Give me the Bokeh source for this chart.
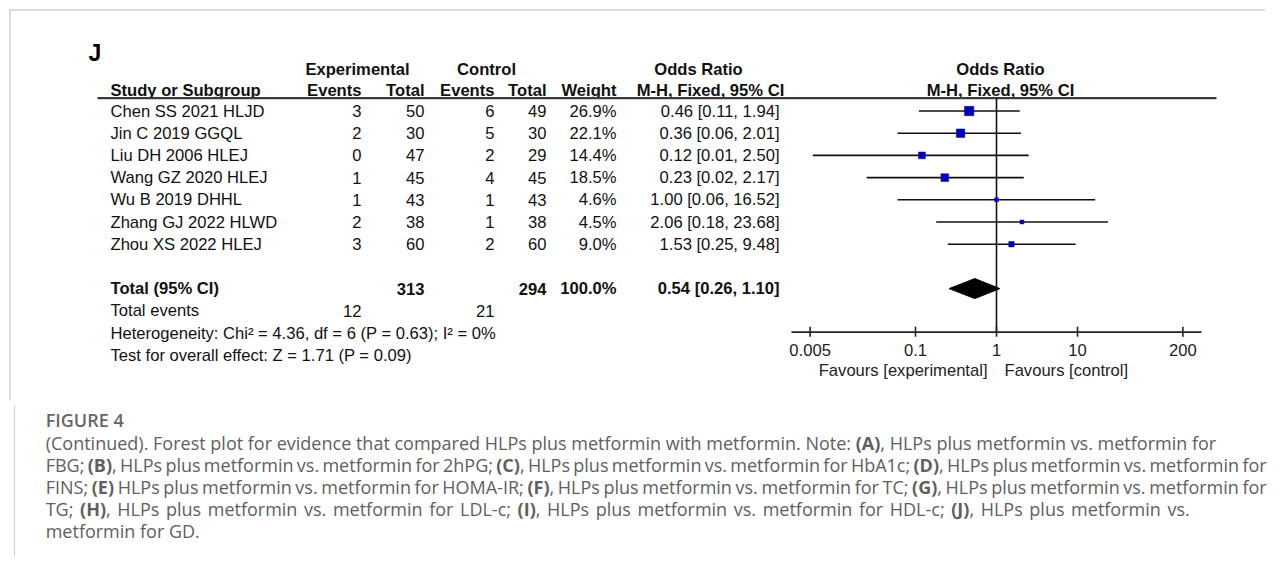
import numpy as np
from bokeh.plotting import figure
from bokeh.models import Range1d, LogScale, ColumnDataSource, Div
from bokeh.layouts import column
from bokeh.core.properties import value
from bokeh.embed import file_html
from bokeh.resources import INLINE

# ---------------- data ----------------
panel_label = "J"
studies = ["Chen SS 2021 HLJD", "Jin C 2019 GGQL", "Liu DH 2006 HLEJ", "Wang GZ 2020 HLEJ",
           "Wu B 2019 DHHL", "Zhang GJ 2022 HLWD", "Zhou XS 2022 HLEJ"]
exp_events = [3, 2, 0, 1, 1, 2, 3]
exp_total = [50, 30, 47, 45, 43, 38, 60]
ctl_events = [6, 5, 2, 4, 1, 1, 2]
ctl_total = [49, 30, 29, 45, 43, 38, 60]
weights = [26.9, 22.1, 14.4, 18.5, 4.6, 4.5, 9.0]
odds = [0.46, 0.36, 0.12, 0.23, 1.00, 2.06, 1.53]
ci_low = [0.11, 0.06, 0.0054, 0.025, 0.06, 0.18, 0.25]
ci_high = [1.94, 2.01, 2.50, 2.17, 16.52, 23.68, 9.48]
ci_text = ["0.46 [0.11, 1.94]", "0.36 [0.06, 2.01]", "0.12 [0.01, 2.50]", "0.23 [0.02, 2.17]",
           "1.00 [0.06, 16.52]", "2.06 [0.18, 23.68]", "1.53 [0.25, 9.48]"]
total_exp = 313
total_ctl = 294
total_weight = "100.0%"
pooled_or, pooled_low, pooled_high = 0.54, 0.26, 1.10
pooled_text = "0.54 [0.26, 1.10]"
events_exp = 12
events_ctl = 21
heterogeneity = "Heterogeneity: Chi² = 4.36, df = 6 (P = 0.63); I² = 0%"
overall = "Test for overall effect: Z = 1.71 (P = 0.09)"
axis_ticks = [0.005, 0.1, 1, 10, 200]
axis_labels = ["0.005", "0.1", "1", "10", "200"]
favours_left = "Favours [experimental]"
favours_right = "Favours [control]"

caption_title = "FIGURE 4"
caption_lines = [
    "(Continued). Forest plot for evidence that compared HLPs plus metformin with metformin. Note: <b>(A)</b>, HLPs plus metformin vs. metformin for",
    "FBG; <b>(B)</b>, HLPs plus metformin vs. metformin for 2hPG; <b>(C)</b>, HLPs plus metformin vs. metformin for HbA1c; <b>(D)</b>, HLPs plus metformin vs. metformin for",
    "FINS; <b>(E)</b> HLPs plus metformin vs. metformin for HOMA-IR; <b>(F)</b>, HLPs plus metformin vs. metformin for TC; <b>(G)</b>, HLPs plus metformin vs. metformin for",
    "TG; <b>(H)</b>, HLPs plus metformin vs. metformin for LDL-c; <b>(I)</b>, HLPs plus metformin vs. metformin for HDL-c; <b>(J)</b>, HLPs plus metformin vs.",
    "metformin for GD.",
]

# ---------------- layout ----------------
W, H_FIG, H_CAP = 1265, 400, 151
PX_PER_DEC = 81.0
X_ONE = 996.0
FS = 16.6

J_X, J_Y = 88, 52
HDR1_Y, HDR2_Y, RULE_Y = 69, 90, 97.7
ROW0, ROW_H = 110.5, 22.2
AXIS_Y, TICK_Y, FAV_Y = 331.7, 349.5, 370
COL_NAME, COL_EEV, COL_ETOT, COL_CEV, COL_CTOT, COL_WT, COL_CI = 110, 361, 424, 494, 546, 616, 779
PLOT_HDR_X = 1000
# (target width px or None, word spacing px) for each caption line
CAP_LINE_FMT = [(None, 0), (1221, -2), (1221, -2), (1144, 0), (None, 0)]

TXT = "#111111"
BLUE = "#0000b4"
FONT = value("Liberation Sans")

p = figure(width=W, height=H_FIG, x_range=Range1d(0, W), y_range=Range1d(H_FIG, 0),
           output_backend="svg", toolbar_location=None, x_axis_type=None, y_axis_type=None,
           min_border=0)
p.outline_line_color = None
p.grid.visible = False
lo = 10 ** ((0 - X_ONE) / PX_PER_DEC)
hi = 10 ** ((W - X_ONE) / PX_PER_DEC)
p.extra_x_ranges = {"or": Range1d(lo, hi)}
p.extra_x_scales = {"or": LogScale()}


def add_text(xs, ys, texts, align="left", size=FS, bold=False, color=TXT, rng="default", x_offset=0):
    src = ColumnDataSource(dict(x=list(xs), y=list(ys), text=[str(t) for t in texts]))
    p.text(x="x", y="y", text="text", source=src, x_range_name=rng, text_align=align,
           text_baseline="middle", text_font=FONT, text_font_size=f"{size}px",
           text_font_style="bold" if bold else "normal", text_color=color, x_offset=x_offset)


# frame borders
p.segment(x0=[9], x1=[W], y0=[9.5], y1=[9.5], line_color="#d2d2d2", line_width=1.6)
p.segment(x0=[9.5], x1=[9.5], y0=[9], y1=[H_FIG], line_color="#d2d2d2", line_width=1.6)

n = len(studies)
row_y = [ROW0 + i * ROW_H for i in range(n)]
y_total = ROW0 + (n + 1) * ROW_H
y_events = y_total + ROW_H
y_het = y_total + 2 * ROW_H
y_test = y_total + 3 * ROW_H

# panel label and headers
add_text([J_X], [J_Y], [panel_label], size=23, bold=True, color="#000000")
add_text([357, 486, 698], [HDR1_Y] * 3, ["Experimental", "Control", "Odds Ratio"], align="center", bold=True)
add_text([PLOT_HDR_X], [HDR1_Y], ["Odds Ratio"], align="center", bold=True)
add_text([COL_NAME], [HDR2_Y], ["Study or Subgroup"], bold=True)
add_text([COL_EEV, COL_ETOT, COL_CEV, COL_CTOT, COL_WT], [HDR2_Y] * 5,
         ["Events", "Total", "Events", "Total", "Weight"], align="right", bold=True)
add_text([710, PLOT_HDR_X], [HDR2_Y] * 2, ["M-H, Fixed, 95% CI"] * 2, align="center", bold=True)
p.segment(x0=[97], x1=[1216], y0=[RULE_Y], y1=[RULE_Y], line_color="#3a3a3a", line_width=2.2)

# study rows
add_text([COL_NAME] * n, row_y, studies)
add_text([COL_EEV] * n, row_y, exp_events, align="right")
add_text([COL_ETOT] * n, row_y, exp_total, align="right")
add_text([COL_CEV] * n, row_y, ctl_events, align="right")
add_text([COL_CTOT] * n, row_y, ctl_total, align="right")
add_text([COL_WT] * n, row_y, [f"{w:.1f}%" for w in weights], align="right")
add_text([COL_CI] * n, row_y, ci_text, align="right")

# totals
add_text([COL_NAME], [y_total], ["Total (95% CI)"], bold=True)
add_text([COL_ETOT, COL_CTOT, COL_WT, COL_CI], [y_total] * 4,
         [total_exp, total_ctl, total_weight, pooled_text], align="right", bold=True)
add_text([COL_NAME], [y_events], ["Total events"])
add_text([COL_EEV, COL_CEV], [y_events] * 2, [events_exp, events_ctl], align="right")
add_text([COL_NAME], [y_het], [heterogeneity])
add_text([COL_NAME], [y_test], [overall])

# forest plot
p.segment(x0=[1], x1=[1], y0=[RULE_Y], y1=[AXIS_Y], x_range_name="or", line_color="#111111", line_width=1.6)
p.segment(x0=ci_low, x1=ci_high, y0=row_y, y1=row_y, x_range_name="or", line_color="#111111", line_width=1.6)
p.scatter(x=odds, y=row_y, size=[1.8 * np.sqrt(w) for w in weights], marker="square",
          fill_color=BLUE, line_color=BLUE, line_width=0.5, x_range_name="or")
DH = 10
p.patch(x=[pooled_low, pooled_or, pooled_high, pooled_or], y=[y_total, y_total - DH, y_total, y_total + DH],
        x_range_name="or", fill_color="#000000", line_color="#000000", line_width=1)

# axis
ext = 10 ** 0.23
p.segment(x0=[axis_ticks[0] / ext], x1=[axis_ticks[-1] * ext], y0=[AXIS_Y], y1=[AXIS_Y],
          x_range_name="or", line_color="#222222", line_width=1.8)
p.segment(x0=axis_ticks, x1=axis_ticks, y0=[AXIS_Y - 5.5] * len(axis_ticks), y1=[AXIS_Y + 4.5] * len(axis_ticks),
          x_range_name="or", line_color="#222222", line_width=1.6)
add_text(axis_ticks, [TICK_Y] * len(axis_ticks), axis_labels, align="center", rng="or", color="#222222")
add_text([1], [FAV_Y], [favours_left], align="right", rng="or", color="#222222", x_offset=-9)
add_text([1], [FAV_Y], [favours_right], align="left", rng="or", color="#222222", x_offset=8)


# caption (journal-style line setting)
def cap_line(text, fmt):
    width, ws = fmt
    if width is None:
        return '<div style="line-height:22px;white-space:nowrap;word-spacing:%gpx;">%s</div>' % (ws, text)
    return ('<div style="line-height:22px;width:%dpx;word-spacing:%gpx;text-align:justify;'
            'text-align-last:justify;">%s</div>' % (width, ws, text))


cap_html = (
    '<div style="margin-left:8.7px;border-left:1.6px solid #d2d2d2;height:%dpx;padding-left:31px;padding-top:3px;'
    "box-sizing:border-box;font-family:'Open Sans',sans-serif;color:#606060;font-size:18px;\">" % H_CAP
    + '<div style="font-weight:600;line-height:24px;color:#666666;white-space:nowrap;">%s</div>' % caption_title
    + "".join(cap_line(t, f) for t, f in zip(caption_lines, CAP_LINE_FMT))
    + "</div>"
)
cap = Div(text=cap_html, width=W, height=H_CAP)

root = column(p, cap)
open("out.html", "w").write(file_html(root, INLINE))
